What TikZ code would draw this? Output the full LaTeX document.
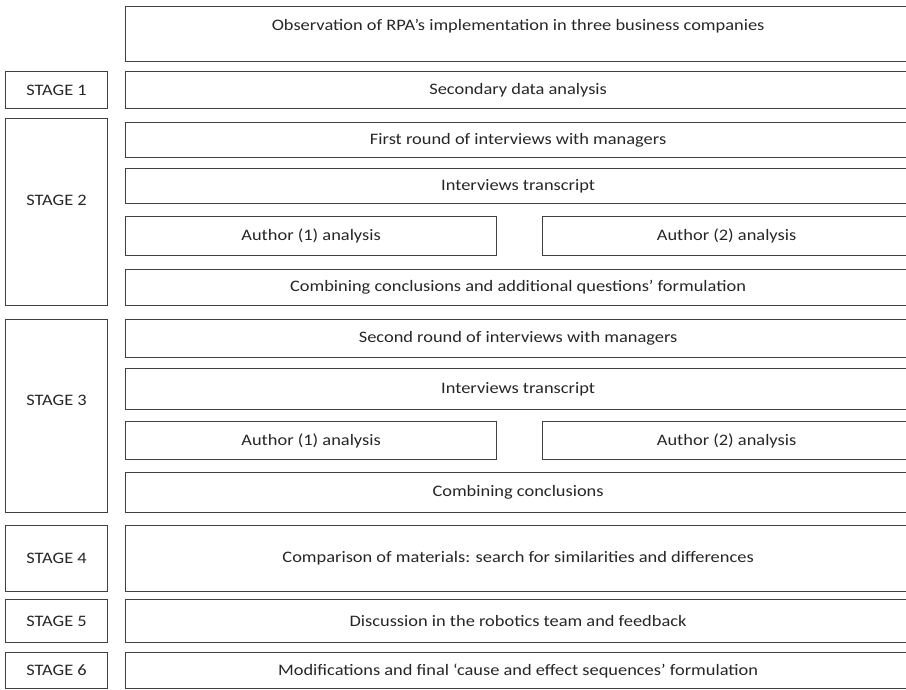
\documentclass[tikz,border=0pt]{standalone}
\usepackage{fontspec}
\setmainfont{Carlito}[FakeStretch=1.15]
\usetikzlibrary{positioning}
\definecolor{linegray}{HTML}{404040}
\definecolor{txtgray}{HTML}{262626}
\tikzset{
  box/.style 2 args={draw=linegray, line width=0.9pt, anchor=north west,
    inner sep=0pt, minimum width=#1*0.75pt, minimum height=#2*0.75pt},
  stagebox/.style={box={102}{#1}},
  stepbox/.style={box={785}{#1}}
}

\begin{document}
\begin{tikzpicture}[x=0.75pt,y=-0.75pt,font=\fontsize{12pt}{14pt}\selectfont,text=txtgray]
  \useasboundingbox (0,0) rectangle (906,689);
  % observation
  \node [stepbox=55, text height=18pt, text depth=23.25pt]
    at (125,6) (obs) {Observation of RPA’s implementation in three business companies};
  % stage 1
  \node [stagebox=37] at (5,71) (stage1) {STAGE 1};
  \node [stepbox=37] at (125,71) (secondary) {Secondary data analysis};
  % stage 2
  \node [stagebox=187, label={[yshift=8.6pt]center:STAGE 2}] at (5,118) (stage2) {};
  \node [stepbox=35] at (125,122) (round1) {First round of interviews with managers};
  \node [stepbox=35] at (125,168) (transcript1) {Interviews transcript};
  \node [box={371}{39}] at (125,216) (authorA1) {Author (1) analysis};
  \node [box={368}{39}] at (542,216) (authorB1) {Author (2) analysis};
  \node [stepbox=36] at (125,269) (combine1)
    {Combining conclusions and additional questions’ formulation};
  % stage 3
  \node [stagebox=193, label={[yshift=12pt]center:STAGE 3}] at (5,319) (stage3) {};
  \node [stepbox=38] at (125,319) (round2) {Second round of interviews with managers};
  \node [stepbox=41] at (125,368) (transcript2) {Interviews transcript};
  \node [box={371}{38}] at (125,421) (authorA2) {Author (1) analysis};
  \node [box={368}{38}] at (542,421) (authorB2) {Author (2) analysis};
  \node [stepbox=40] at (125,472) (combine2) {Combining conclusions};
  % stage 4
  \node [stagebox=66] at (5,525) (stage4) {STAGE 4};
  \node [stepbox=66] at (125,525) (compare)
    {Comparison of materials: search for similarities and differences};
  % stage 5
  \node [stagebox=43] at (5,599) (stage5) {STAGE 5};
  \node [stepbox=43] at (125,599) (discuss) {Discussion in the robotics team and feedback};
  % stage 6
  \node [stagebox=36] at (5,652) (stage6) {STAGE 6};
  \node [stepbox=36] at (125,652) (modify)
    {Modifications and final ‘cause and effect sequences’ formulation};
\end{tikzpicture}
\end{document}
